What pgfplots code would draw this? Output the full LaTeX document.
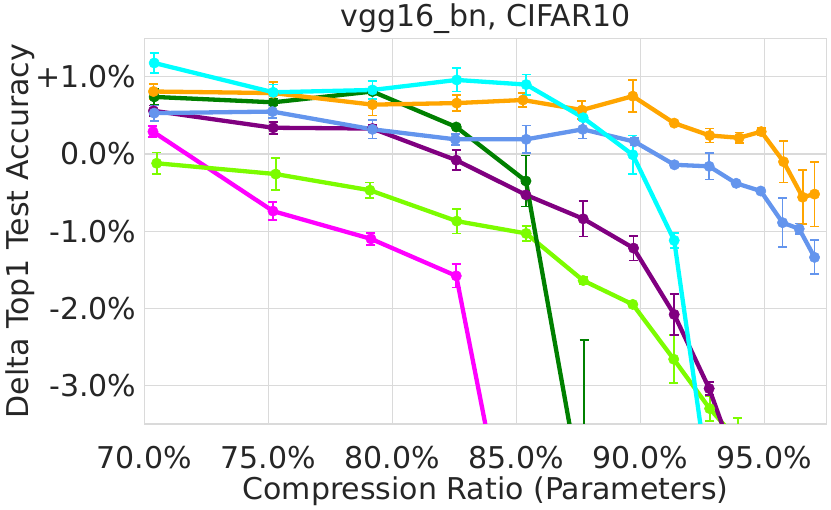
\documentclass[border=0pt]{standalone}
\usepackage{pgfplots}
\pgfplotsset{compat=1.18}
\usepackage{pgfplotstable}
\usepackage{fontspec}
\setmainfont{DejaVu Sans}
\definecolor{txt}{HTML}{262626}
\definecolor{gridc}{HTML}{DADADA}
\definecolor{ccyan}{HTML}{00FFFF}
\definecolor{corange}{HTML}{FFA500}
\definecolor{cblue}{HTML}{6495ED}
\definecolor{cgreen}{HTML}{008000}
\definecolor{cpurple}{HTML}{800080}
\definecolor{clime}{HTML}{7CFC00}
\definecolor{cmag}{HTML}{FF00FF}

\pgfplotstableread{
x y e
70.35 0.29 0.07
75.19 -0.74 0.12
79.14 -1.10 0.08
82.58 -1.58 0.15
85.40 -6.20 0.10
}\magenta
\pgfplotstableread{
x y e
70.50 -0.12 0.14
75.30 -0.26 0.21
79.10 -0.47 0.10
82.60 -0.87 0.16
85.40 -1.03 0.10
87.70 -1.64 0.05
89.70 -1.95 0.02
91.35 -2.66 0.31
92.80 -3.30 0.16
93.93 -3.71 0.29
}\lime
\pgfplotstableread{
x y e
70.37 0.56 0.07
75.20 0.34 0.08
79.20 0.33 0.05
82.58 -0.08 0.13
85.39 -0.53 0.15
87.70 -0.84 0.23
89.73 -1.22 0.16
91.37 -2.08 0.27
92.78 -3.04 0.08
93.90 -4.04 0.10
}\purple
\pgfplotstableread{
x y e
70.40 0.74 0.10
75.20 0.67 0.04
79.20 0.81 0.14
82.58 0.35 0.03
85.39 -0.35 0.33
87.74 -4.57 2.16
}\green
\pgfplotstableread{
x y e
70.40 0.53 0.10
75.17 0.55 0.08
79.20 0.32 0.12
82.54 0.19 0.07
85.40 0.19 0.18
87.68 0.32 0.12
89.77 0.16 0.05
91.38 -0.14 0.03
92.78 -0.16 0.17
93.87 -0.38 0.02
94.86 -0.48 0.02
95.74 -0.89 0.32
96.41 -0.97 0.07
97.03 -1.34 0.22
}\blue
\pgfplotstableread{
x y e
70.37 0.81 0.10
75.20 0.79 0.14
79.20 0.64 0.14
82.60 0.66 0.10
85.27 0.70 0.09
87.65 0.57 0.12
89.70 0.75 0.21
91.37 0.40 0.02
92.80 0.24 0.09
93.99 0.21 0.07
94.88 0.29 0.05
95.78 -0.10 0.27
96.55 -0.56 0.35
97.03 -0.52 0.42
}\orange
\pgfplotstableread{
x y e
70.40 1.18 0.13
75.20 0.80 0.10
79.20 0.83 0.12
82.60 0.96 0.15
85.40 0.90 0.13
87.70 0.47 0.03
89.70 -0.01 0.25
91.37 -1.12 0.10
93.00 -4.80 0.10
}\cyan

\pgfplotsset{
  ser/.style={
    color=#1, line width=4.3pt, mark=*, mark size=5.2pt,
    mark options={solid, fill=#1, draw=#1, line width=0.5pt},
    error bars/.cd, y dir=both, y explicit,
    error bar style={line width=1.8pt, color=#1},
    error mark options={line width=1.8pt, mark size=4.5pt, color=#1, rotate=90},
  }
}

\begin{document}
\begin{tikzpicture}[font=\fontsize{30}{36}\selectfont, text=txt]
\useasboundingbox (0,0) rectangle (831pt,510pt);
\begin{axis}[
  at={(144.3pt,86pt)}, anchor=south west,
  scale only axis, width=682.4pt, height=385.7pt,
  xmin=70, xmax=97.52, ymin=-3.5, ymax=1.5,
  xtick={70,75,80,85,90,95},
  xticklabels={70.0\%,75.0\%,80.0\%,85.0\%,90.0\%,95.0\%},
  ytick={-3,-2,-1,0,1},
  yticklabels={-3.0\%,-2.0\%,-1.0\%,0.0\%,+1.0\%},
  grid=major,
  major grid style={color=gridc, line width=1.2pt},
  axis line style={color=gridc, line width=1.2pt},
  major tick length=0pt, tick style={draw=none},
  xticklabel style={anchor=north, inner sep=0pt, yshift=-21.7pt, font=\fontsize{30}{36}\selectfont, text=txt},
  yticklabel style={anchor=east, inner sep=0pt, xshift=-7.6pt, font=\fontsize{30}{36}\selectfont, text=txt},
  every axis title shift=0pt,
  title={vgg16\_bn, CIFAR10},
  title style={at={(axis description cs:0.5,1.0301)}, anchor=base, yshift=0pt, inner sep=0pt, font=\fontsize{30}{36}\selectfont, text=txt},
  xlabel={Compression Ratio (Parameters)},
  xlabel style={at={(axis description cs:0.5,-0.197)}, anchor=base, inner sep=0pt, font=\fontsize{30}{36}\selectfont, text=txt},
  ylabel={Delta Top1 Test Accuracy},
  ylabel style={at={(axis description cs:-0.1704,0.5)}, anchor=base, inner sep=0pt, font=\fontsize{30}{36}\selectfont, text=txt},
  clip=true,
]
\addplot[ser=cmag] table[x=x, y=y, y error=e] {\magenta};
\addplot[ser=clime] table[x=x, y=y, y error=e] {\lime};
\addplot[ser=cpurple] table[x=x, y=y, y error=e] {\purple};
\addplot[ser=cgreen] table[x=x, y=y, y error=e] {\green};
\addplot[ser=cblue] table[x=x, y=y, y error=e] {\blue};
\addplot[ser=corange] table[x=x, y=y, y error=e] {\orange};
\addplot[ser=ccyan] table[x=x, y=y, y error=e] {\cyan};
\end{axis}
\end{tikzpicture}
\end{document}
